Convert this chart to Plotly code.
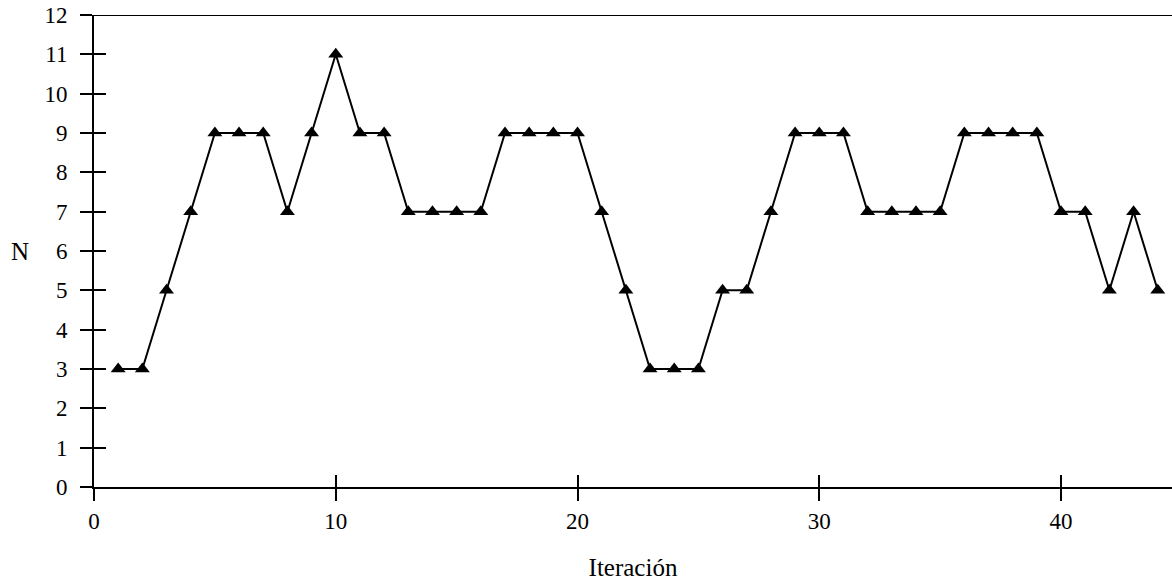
import plotly.graph_objects as go

# Iteration index and N value at each iteration
iteraciones = list(range(1, 45))
n_valores = [3, 3, 5, 7, 9, 9, 9, 7, 9, 11, 9, 9, 7, 7, 7, 7, 9, 9, 9, 9,
             7, 5, 3, 3, 3, 5, 5, 7, 9, 9, 9, 7, 7, 7, 7, 9, 9, 9, 9, 7,
             7, 5, 7, 5]
x_ticks = [0, 10, 20, 30, 40]
y_ticks = list(range(0, 13))

FONT = "'Liberation Serif', 'Times New Roman', 'DejaVu Serif', serif"
X_RANGE = [0, 44.59]
Y_RANGE = [0, 12]

fig = go.Figure()
fig.add_trace(go.Scatter(
    x=iteraciones, y=n_valores, mode="lines+markers",
    line=dict(color="black", width=2),
    marker=dict(symbol="triangle-up", size=13, color="black"),
    cliponaxis=False, showlegend=False,
))
# invisible trace to carry the inner ticks on the overlay axes
fig.add_trace(go.Scatter(x=[None], y=[None], xaxis="x2", yaxis="y2",
                         showlegend=False, hoverinfo="skip"))

fig.update_layout(
    width=1172, height=581,
    margin=dict(l=94, r=0, t=15, b=94),
    plot_bgcolor="white", paper_bgcolor="white",
    font=dict(family=FONT, size=23, color="black"),
    xaxis=dict(range=X_RANGE, tickvals=x_ticks, ticks="outside", ticklen=12,
               tickwidth=2, tickcolor="black", showline=True, linewidth=2,
               linecolor="black", showgrid=False, zeroline=False,
               ticklabelstandoff=0,
               title=dict(text="Iteración", standoff=30,
                          font=dict(family=FONT, size=25))),
    yaxis=dict(range=Y_RANGE, tickvals=y_ticks, ticks="outside", ticklen=12,
               tickwidth=2, tickcolor="black", showline=True, linewidth=2,
               linecolor="black", showgrid=False, zeroline=False,
               ticklabelstandoff=8),
    xaxis2=dict(range=X_RANGE, tickvals=x_ticks, ticks="inside", ticklen=12,
                tickwidth=2, tickcolor="black", showticklabels=False,
                showgrid=False, zeroline=False, overlaying="x", side="bottom"),
    yaxis2=dict(range=Y_RANGE, tickvals=y_ticks[1:], ticks="inside", ticklen=12,
                tickwidth=2, tickcolor="black", showticklabels=False,
                showgrid=False, zeroline=False, overlaying="y", side="left"),
    shapes=[dict(type="line", xref="paper", yref="y", x0=0, x1=1, y0=12, y1=12,
                 line=dict(color="black", width=2))],
    annotations=[dict(text="N", xref="paper", yref="paper", x=-0.0686, y=0.498,
                      xanchor="center", yanchor="middle", showarrow=False,
                      font=dict(family=FONT, size=25))],
)
fig.write_html("out.html")
